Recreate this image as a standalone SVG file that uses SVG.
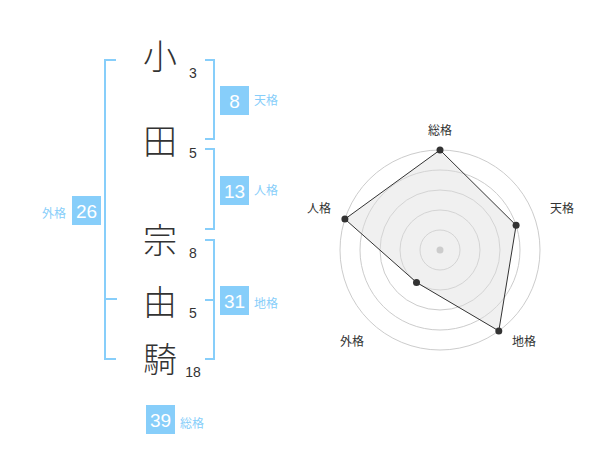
<svg xmlns="http://www.w3.org/2000/svg" width="600" height="470" viewBox="0 0 600 470">
<style>
.kanji{font-family:"Noto Sans CJK JP","Noto Sans",sans-serif;font-size:34px;font-weight:300;fill:#333;text-anchor:middle}
.num{font-family:"Liberation Sans","Noto Sans",sans-serif;font-size:14px;fill:#333;text-anchor:middle}
.box{fill:#87cefa}
.boxnum{font-family:"Liberation Sans","Noto Sans",sans-serif;font-size:19px;fill:#fff;text-anchor:middle}
.lbl{font-family:"Noto Sans CJK JP","Noto Sans",sans-serif;font-size:12px;fill:#87cefa}
.br{fill:none;stroke:#87cefa;stroke-width:2}
.ring{fill:none;stroke:#ccc;stroke-width:1}
.axis{font-family:"Noto Sans CJK JP","Noto Sans",sans-serif;font-size:12px;fill:#333;text-anchor:middle}
.pt{fill:#333}
</style>
<rect width="600" height="470" fill="#fff"/>
<g id="name">
<text class="kanji" x="160" y="69">小</text>
<text class="kanji" x="160" y="154">田</text>
<text class="kanji" x="160" y="253">宗</text>
<text class="kanji" x="160" y="315">由</text>
<text class="kanji" x="160" y="372">騎</text>
<text class="num" x="193" y="78">3</text>
<text class="num" x="193" y="158">5</text>
<text class="num" x="193" y="258">8</text>
<text class="num" x="193" y="318">5</text>
<text class="num" x="193" y="377">18</text>
</g>
<g id="connectors">
<path class="br" d="M116,60 H105 V359 H116 M105,299 H117"/>
<path class="br" d="M205,60 H214 V139 H205"/>
<path class="br" d="M205,149 H214 V229 H205"/>
<path class="br" d="M205,240 H214 V359 H205 M205,300 H214"/>
</g>
<g id="tenkaku">
<rect class="box" x="220" y="86" width="29" height="29"/>
<text class="boxnum" x="234.5" y="107.5">8</text>
<text class="lbl" x="254" y="105">天格</text>
</g>
<g id="jinkaku">
<rect class="box" x="220" y="176" width="29" height="29"/>
<text class="boxnum" x="234.5" y="197.5">13</text>
<text class="lbl" x="254" y="195">人格</text>
</g>
<g id="gaikaku">
<rect class="box" x="72" y="196" width="29" height="29"/>
<text class="boxnum" x="86.5" y="217.5">26</text>
<text class="lbl" x="42" y="218">外格</text>
</g>
<g id="chikaku">
<rect class="box" x="220" y="286" width="29" height="29"/>
<text class="boxnum" x="234.5" y="307.5">31</text>
<text class="lbl" x="254" y="308">地格</text>
</g>
<g id="soukaku">
<rect class="box" x="146" y="405" width="29" height="29"/>
<text class="boxnum" x="160.5" y="426.5">39</text>
<text class="lbl" x="180" y="428">総格</text>
</g>
<g id="radar">
<circle class="ring" cx="440" cy="250" r="20"/>
<circle class="ring" cx="440" cy="250" r="40"/>
<circle class="ring" cx="440" cy="250" r="60"/>
<circle class="ring" cx="440" cy="250" r="80"/>
<circle class="ring" cx="440" cy="250" r="100"/>
<polygon points="440,150 516.1,225.3 498.8,330.9 416.5,282.4 344.9,219.1" fill="#ddd" fill-opacity="0.45" stroke="#333" stroke-width="1"/>
<circle cx="440" cy="250" r="3.5" fill="#ccc"/>
<circle class="pt" cx="440" cy="150" r="3.5"/>
<circle class="pt" cx="516.1" cy="225.3" r="3.5"/>
<circle class="pt" cx="498.8" cy="330.9" r="3.5"/>
<circle class="pt" cx="416.5" cy="282.4" r="3.5"/>
<circle class="pt" cx="344.9" cy="219.1" r="3.5"/>
<text class="axis" x="440" y="135">総格</text>
<text class="axis" x="562" y="213">天格</text>
<text class="axis" x="319" y="213">人格</text>
<text class="axis" x="352" y="346">外格</text>
<text class="axis" x="524" y="346">地格</text>
</g>
</svg>
